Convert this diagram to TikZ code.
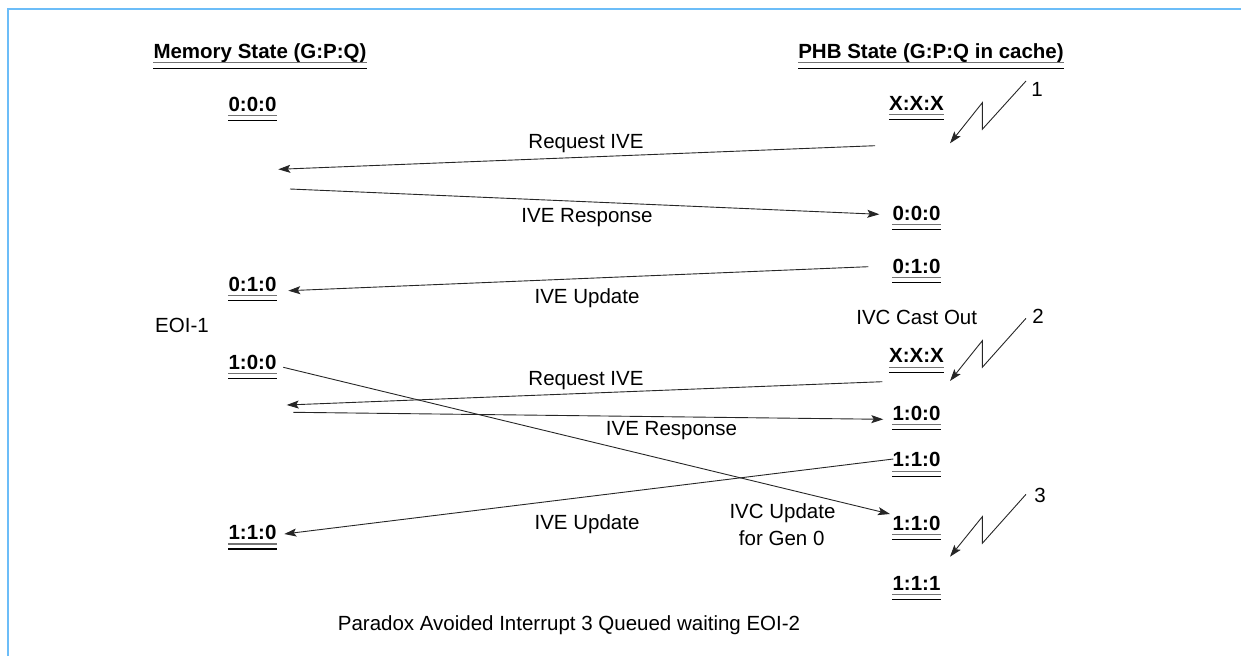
\documentclass[tikz,border=0pt]{standalone}
\usepackage{fontspec}
\setmainfont{Liberation Sans}
\usetikzlibrary{arrows.meta}

\definecolor{frameblue}{RGB}{108,189,248}

\tikzset{
  txt/.style={inner sep=0pt, anchor=base, font=\fontsize{20.5}{24}\selectfont},
  st/.style={txt, font=\fontsize{20.5}{24}\selectfont\bfseries},
  msg/.style={draw=black!85, line width=0.9pt,
              -{Stealth[length=12pt,width=8pt,inset=2.5pt]}},
  ulone/.style={line width=1.1pt, draw=black!55},
  ultwo/.style={line width=1.1pt, draw=black},
}

% a state label with a double underline
\newcommand\gpq[4]{%
  \node[st] (#1) at (#2,#3) {#4};
  \draw[ulone] ([yshift=-4.5pt]#1.base west) -- ([yshift=-4.5pt]#1.base east);
  \draw[ultwo] ([yshift=-9.5pt]#1.base west) -- ([yshift=-9.5pt]#1.base east);
}
% a column heading with a double underline
\newcommand\colhead[4]{%
  \node[st] (#1) at (#2,#3) {#4};
  \draw[ulone] ([yshift=-4.5pt]#1.base west) -- ([yshift=-4.5pt]#1.base east);
  \draw[ultwo] ([yshift=-10.5pt]#1.base west) -- ([yshift=-10.5pt]#1.base east);
}

\begin{document}
\begin{tikzpicture}[x=1pt, y=-1pt]
\useasboundingbox (0,0) rectangle (1241,656);

% frame
\draw[frameblue, line width=2.5pt] (7.8,656) |- (1241,9);

% column headings
\colhead{memhdr}{260}{58}{Memory State (G:P:Q)}
\colhead{phbhdr}{931}{58}{PHB State (G:P:Q in cache)}

% memory states
\gpq{m1}{252.5}{111}{0:0:0}
\gpq{m2}{252.5}{291}{0:1:0}
\gpq{m3}{252.5}{369}{1:0:0}
\gpq{m4}{252.5}{539.5}{1:1:0}

% PHB states
\gpq{p1}{916.5}{110}{X:X:X}
\gpq{p2}{916.5}{220}{0:0:0}
\gpq{p3}{916.5}{273}{0:1:0}
\gpq{p4}{916.5}{362.7}{X:X:X}
\gpq{p5}{916.5}{420}{1:0:0}
\gpq{p6}{916.5}{466.7}{1:1:0}
\gpq{p7}{916.5}{530}{1:1:0}
\gpq{p8}{916.5}{590}{1:1:1}

% side notes
\node[txt, anchor=base west] (eoi) at (155,332) {EOI-1};
\node[txt] (castout) at (916.7,324) {IVC Cast Out};
\node[txt] (para) at (569,630) {Paradox Avoided Interrupt 3 Queued waiting EOI-2};

% message labels
\node[txt] (lreq1) at (586,148) {Request IVE};
\node[txt] (lrsp1) at (587,222) {IVE Response};
\node[txt] (lupd1) at (587,303) {IVE Update};
\node[txt] (lreq2) at (586,385) {Request IVE};
\node[txt] (lrsp2) at (671.5,435.5) {IVE Response};
\node[txt] (lupd2) at (587,529.5) {IVE Update};
\node[txt] (livcA) at (782.5,518) {IVC Update};
\node[txt] (livcB) at (781.7,545) {for Gen 0};

% message end points
\coordinate (req1s) at (875,145.7);   \coordinate (req1e) at (278.3,169.3);
\coordinate (rsp1s) at (290,189);     \coordinate (rsp1e) at (879.3,214.3);
\coordinate (upd1s) at (868.3,266.7); \coordinate (upd1e) at (288.3,290.7);
\coordinate (req2s) at (882.3,381.7); \coordinate (req2e) at (286.7,405);
\coordinate (rsp2s) at (293.3,412.3); \coordinate (rsp2e) at (883.3,419.3);
\coordinate (ivcs)  at (283.3,367.3); \coordinate (ivce)  at (890,514);
\coordinate (upd2s) at (893.3,459);   \coordinate (upd2e) at (284.3,534);

\draw[msg] (req1s) -- (req1e);
\draw[msg] (rsp1s) -- (rsp1e);
\draw[msg] (upd1s) -- (upd1e);
\draw[msg] (req2s) -- (req2e);
\draw[msg] (rsp2s) -- (rsp2e);
\draw[msg] (ivcs)  -- (ivce);
\draw[msg] (upd2s) -- (upd2e);

% interrupt bolts
\node[txt] (n1) at (1037,96) {1};
\node[txt] (n2) at (1038,323) {2};
\node[txt] (n3) at (1040,502) {3};

\coordinate (b1s) at (1026,81);    \coordinate (b1e) at (950,143.3);
\coordinate (b2s) at (1026,318.3); \coordinate (b2e) at (950,381);
\coordinate (b3s) at (1026,494.3); \coordinate (b3e) at (950,556.7);

\draw[msg] (b1s) -- (982.3,129.3) -- (982.3,102.7) -- (b1e);
\draw[msg] (b2s) -- (982.3,367.3) -- (982.3,340.7) -- (b2e);
\draw[msg] (b3s) -- (982.3,543.3) -- (982.3,516.7) -- (b3e);
\end{tikzpicture}
\end{document}
